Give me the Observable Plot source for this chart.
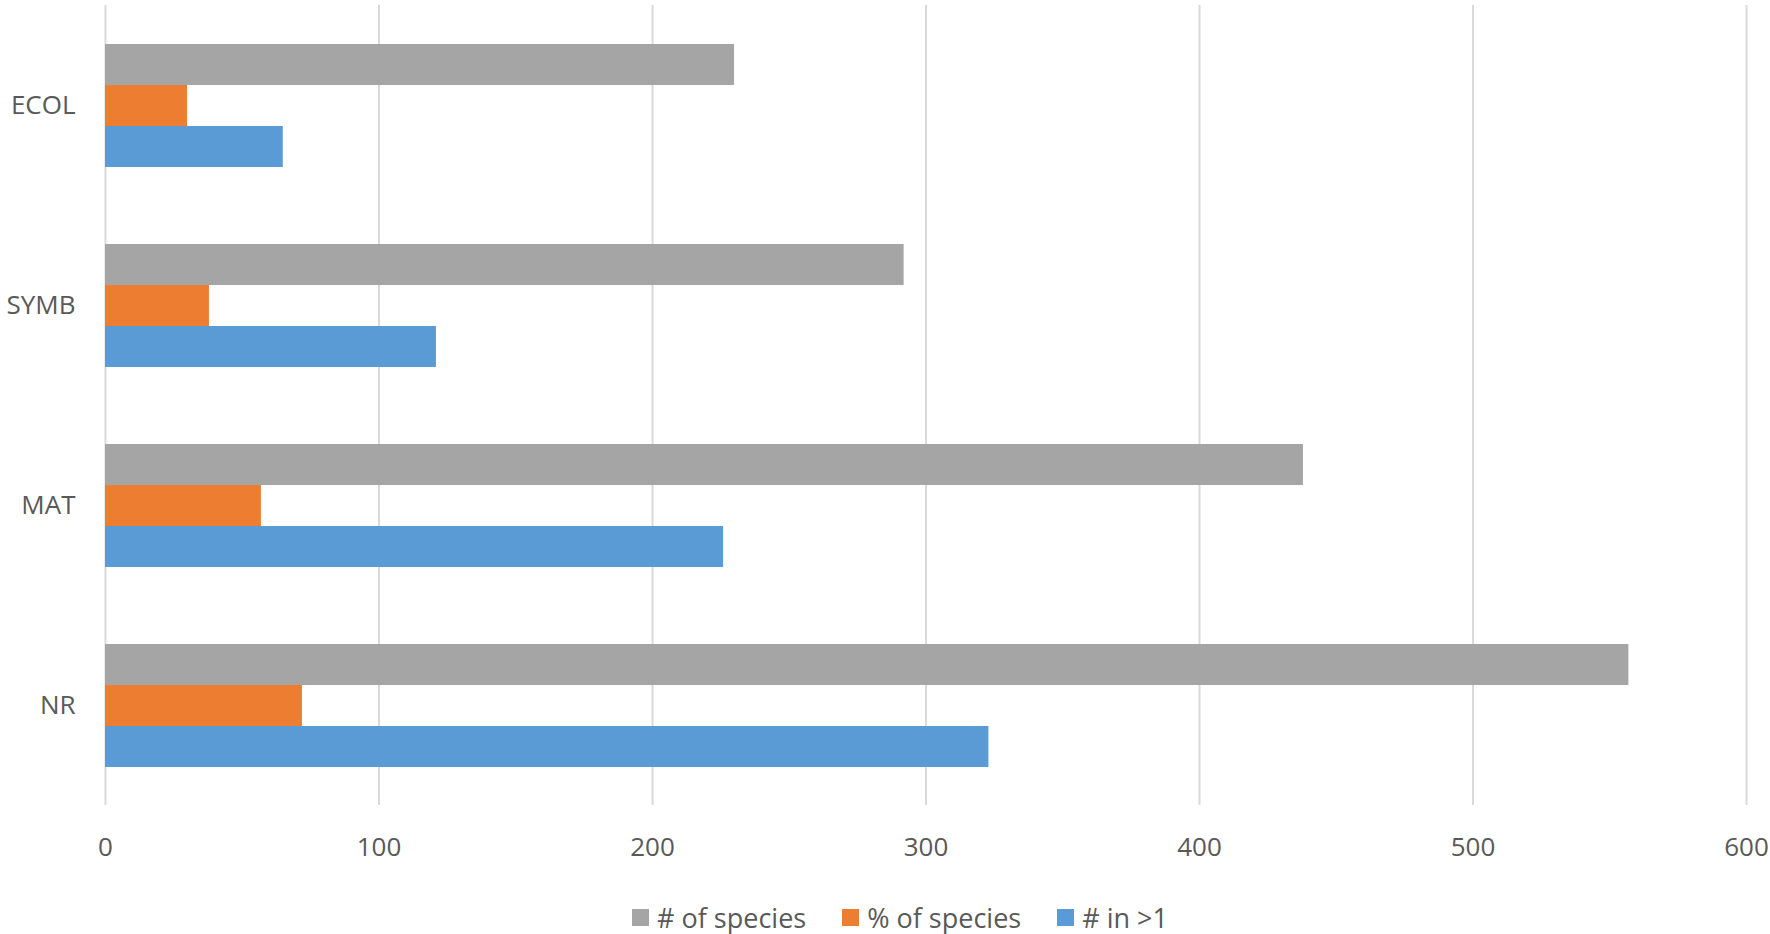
<!DOCTYPE html>
<html>
<head>
<meta charset="utf-8">
<script src="https://cdn.jsdelivr.net/npm/d3@7"></script>
<script src="https://cdn.jsdelivr.net/npm/@observablehq/plot@0.6"></script>
<style>
  html, body { margin: 0; padding: 0; background: #fff; }
  body { width: 1770px; font-family: "Open Sans", sans-serif; color: #595959; }
  #legend { height: 64px; display: flex; justify-content: center; align-items: center; padding-left: 30px; box-sizing: border-box; padding-top: 31px; }
  .item { display: flex; align-items: center; margin: 0 18px; font-size: 27px; line-height: 27px; }
  .sw { width: 17px; height: 17px; margin-right: 8px; }
</style>
</head>
<body>
<div id="chart"></div>
<div id="legend"></div>
<script>
// Data
const categories = ["ECOL", "SYMB", "MAT", "NR"];
const seriesNames = ["# of species", "% of species", "# in >1"];
const seriesColors = ["#a5a5a5", "#ed7d31", "#5b9bd5"];
const numSpecies = [230, 292, 438, 557];
const pctSpecies = [30, 38, 57, 72];
const numInMoreThanOne = [65, 121, 226, 323];
const xTicks = [0, 100, 200, 300, 400, 500, 600];

const seriesValues = [numSpecies, pctSpecies, numInMoreThanOne];
const rows = [];
categories.forEach((cat, i) => {
  seriesNames.forEach((s, j) => {
    rows.push({cat, series: s, value: seriesValues[j][i]});
  });
});

const chart = Plot.plot({
  width: 1770,
  height: 870,
  marginLeft: 105,
  marginRight: 24,
  marginTop: 4,
  marginBottom: 64,
  style: {fontFamily: "Open Sans, sans-serif", fontSize: "26px", color: "#595959", background: "#fff"},
  x: {domain: [0, 600], axis: null},
  y: {domain: seriesNames, paddingInner: 0, paddingOuter: 0.93, axis: null},
  fy: {domain: categories, padding: 0, axis: null},
  color: {domain: seriesNames, range: seriesColors},
  marks: [
    Plot.gridX(xTicks, {stroke: "#d9d9d9", strokeOpacity: 1, strokeWidth: 2}),
    Plot.barX(rows, {x: "value", y: "series", fy: "cat", fill: "series"}),
    Plot.axisX({ticks: xTicks, tickSize: 0, tickPadding: 32, fontSize: 26, label: null}),
    Plot.axisFy({anchor: "left", tickSize: 0, tickPadding: 30, fontSize: 26, label: null})
  ]
});
document.getElementById("chart").appendChild(chart);

const legend = document.getElementById("legend");
seriesNames.forEach((s, i) => {
  const item = document.createElement("div");
  item.className = "item";
  const sw = document.createElement("span");
  sw.className = "sw";
  sw.style.background = seriesColors[i];
  const t = document.createElement("span");
  t.textContent = s;
  item.appendChild(sw);
  item.appendChild(t);
  legend.appendChild(item);
});
</script>
</body>
</html>
